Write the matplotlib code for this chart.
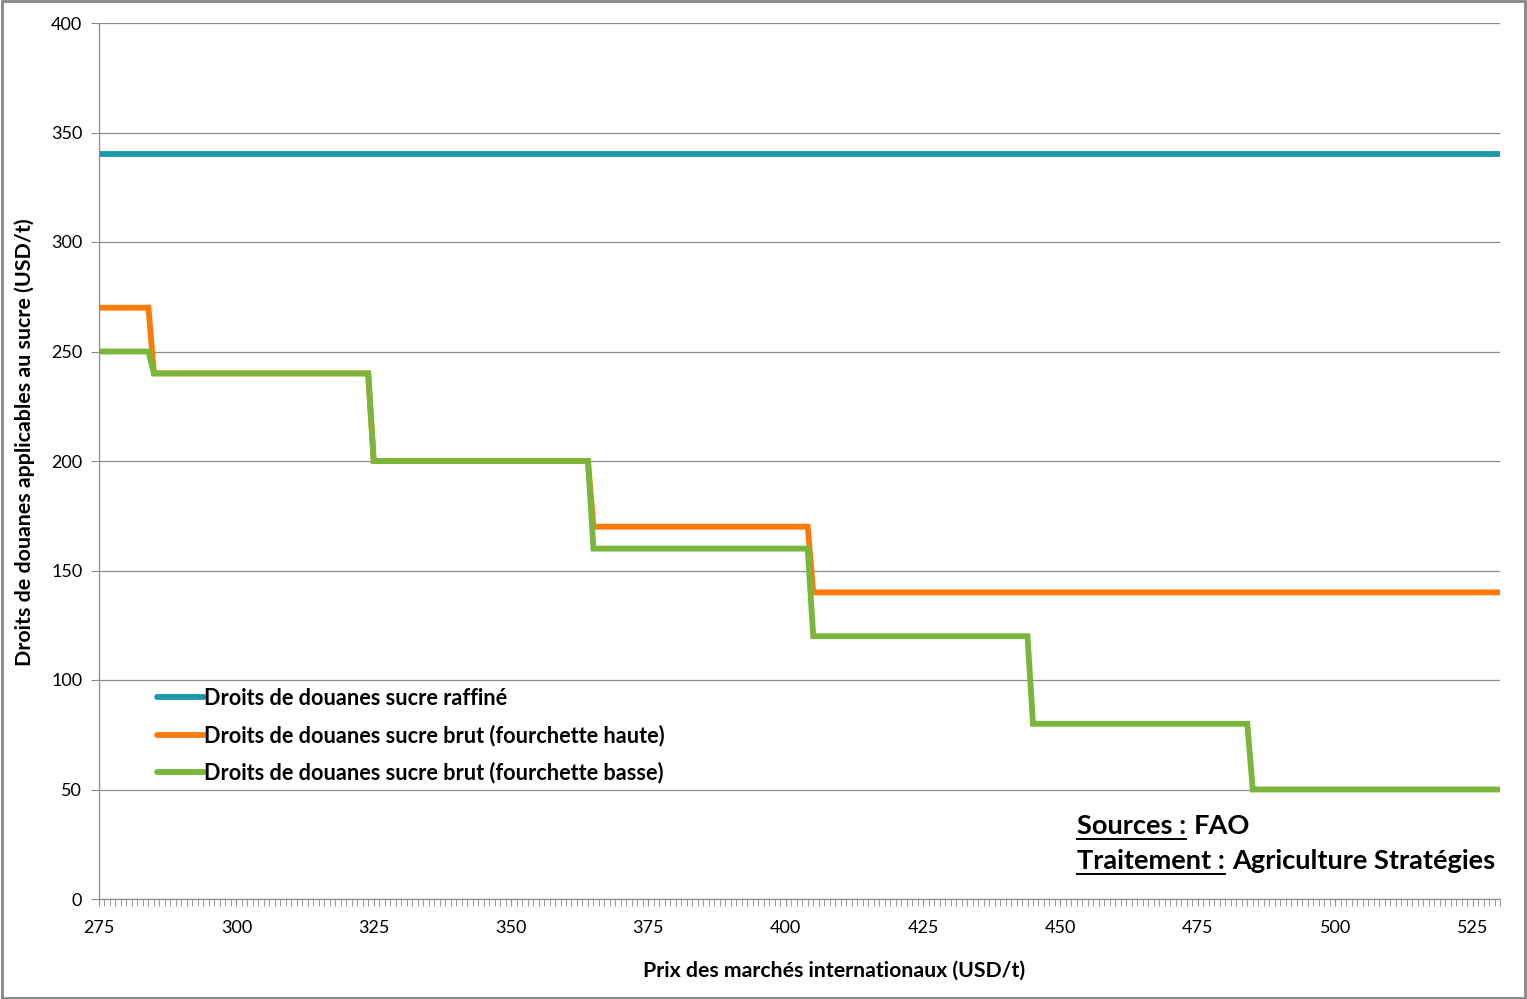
import numpy as np
import matplotlib.pyplot as plt
from matplotlib.lines import Line2D
from matplotlib.patches import Rectangle

plt.rcParams['font.family'] = ['Lato', 'DejaVu Sans']

# prix internationaux (USD/t), one point per dollar
prix = np.arange(275, 531)

# step levels: (first price of the level, duty)
raffine_levels = [(275, 340)]
haute_levels = [(275, 270), (285, 240), (325, 200), (365, 170), (405, 140)]
basse_levels = [(275, 250), (285, 240), (325, 200), (365, 160), (405, 120), (445, 80), (485, 50)]

labels = ["Droits de douanes sucre raffiné",
          "Droits de douanes sucre brut (fourchette haute)",
          "Droits de douanes sucre brut (fourchette basse)"]
colors = ["#1A98A9", "#FF7A0A", "#79B63A"]


def expand(levels):
    out = np.zeros(len(prix))
    for start, val in levels:
        out[prix >= start] = val
    return out


series = [expand(raffine_levels), expand(haute_levels), expand(basse_levels)]

W, H = 1527, 999
fig = plt.figure(figsize=(W / 100, H / 100), dpi=100)
ax = fig.add_axes([99 / W, 1 - 899 / H, (1500 - 99) / W, (899 - 23) / H])

for y, lab, c in zip(series, labels, colors):
    ax.plot(prix, y, color=c, lw=4.2, label=lab, solid_joinstyle='miter')

ax.set_xlim(275, 530)
ax.set_ylim(0, 400)
ax.set_yticks(np.arange(0, 401, 50))
ax.set_xticks(np.arange(275, 531, 25))
ax.set_xticks(np.arange(275, 531, 1), minor=True)
ax.grid(axis='y', color='#8C8C8C', lw=0.9)
ax.set_axisbelow(True)
for s in ['top', 'right']:
    ax.spines[s].set_visible(False)
for s in ['left', 'bottom']:
    ax.spines[s].set_color('#8C8C8C')
    ax.spines[s].set_linewidth(0.9)
ax.tick_params(axis='y', direction='out', length=6, color='#8C8C8C', pad=6, labelsize=13)
ax.tick_params(axis='x', which='both', direction='out', length=5, color='#8C8C8C', pad=10, labelsize=13)

ax.text(0.525, -0.082, "Prix des marchés internationaux (USD/t)", transform=ax.transAxes,
        ha='center', va='center', fontsize=15.3, fontweight='bold')
ax.text(-0.0528, 0.5217, "Droits de douanes applicables au sucre (USD/t)", transform=ax.transAxes,
        ha='center', va='center', rotation=90, fontsize=15.4, fontweight='bold')

leg = ax.legend(loc='upper left', bbox_to_anchor=((157 - 99) / 1401, 0.241), frameon=False,
                prop={'weight': 'bold', 'size': 15.6}, handlelength=2.17, handletextpad=0.0,
                labelspacing=0.72, borderpad=0, borderaxespad=0)
for h in leg.get_lines():
    h.set_solid_capstyle('round')

# sources block with underlined labels
fig.canvas.draw()
renderer = fig.canvas.get_renderer()


def under_text(x, y, a, b):
    t = fig.text(x / W, 1 - y / H, a, fontsize=19.6, fontweight='bold', va='baseline')
    bb = t.get_window_extent(renderer)
    fig.add_artist(Line2D([bb.x0 / W, bb.x1 / W], [(bb.y0 - 1) / H, (bb.y0 - 1) / H],
                          color='black', lw=1.4))
    fig.text((bb.x1 + 7) / W, 1 - y / H, b, fontsize=19.6, fontweight='bold', va='baseline')


under_text(1077, 834, "Sources :", "FAO")
under_text(1077, 869, "Traitement :", "Agriculture Stratégies")

fig.add_artist(Rectangle((0.001, 0.001), 0.998, 0.998, transform=fig.transFigure,
                         fill=False, edgecolor='#868686', lw=2))

fig.savefig('out.png', dpi=100)
